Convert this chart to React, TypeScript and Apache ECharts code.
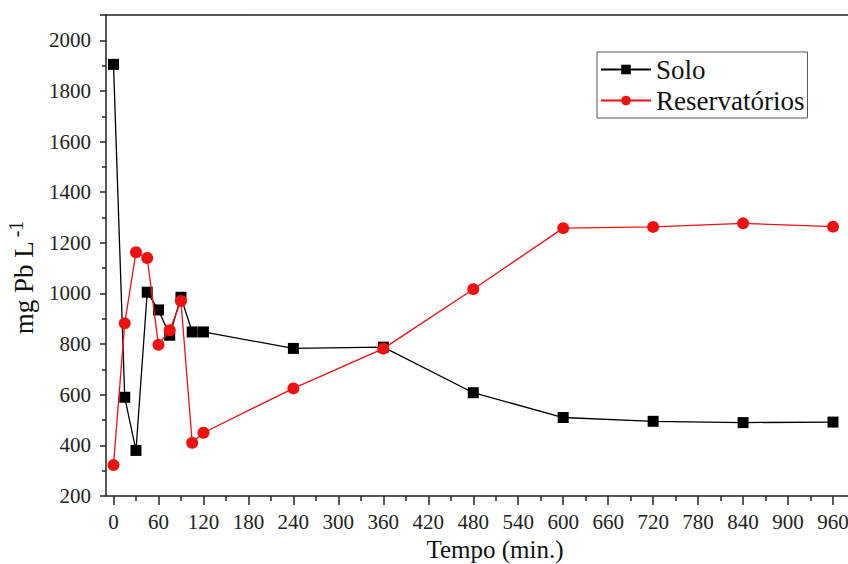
import React, { useEffect, useRef } from "react";
import * as echarts from "echarts";

const timeMin = [0, 15, 30, 45, 60, 75, 90, 105, 120, 240, 360, 480, 600, 720, 840, 960];
const soloValues = [1905, 590, 380, 1005, 935, 835, 985, 848, 848, 783, 788, 608, 510, 495, 490, 492];
const reservValues = [322, 882, 1163, 1140, 797, 855, 970, 410, 450, 625, 782, 1017, 1258, 1263, 1277, 1264];
const xMajorTicks = [0, 60, 120, 180, 240, 300, 360, 420, 480, 540, 600, 660, 720, 780, 840, 900, 960];
const xMinorTicks = [30, 90, 150, 210, 270, 330, 390, 450, 510, 570, 630, 690, 750, 810, 870, 930];

const FONT = "Liberation Serif";

export default function App() {
  const ref = useRef<HTMLDivElement>(null);
  useEffect(() => {
    if (!ref.current) return;
    const chart = echarts.init(ref.current, null, { renderer: "svg" });
    const axisLineStyle = { color: "#222", width: 1.5 };
    chart.setOption({
      animation: false,
      backgroundColor: "#fff",
      textStyle: { fontFamily: FONT },
      grid: { left: 106, top: 15, right: 0, bottom: 68, containLabel: false, outerBoundsMode: "none" },
      legend: {
        orient: "vertical",
        left: 597,
        top: 52,
        padding: [4, 3, 4, 3],
        itemGap: 4,
        itemWidth: 50,
        itemHeight: 12,
        borderColor: "#555",
        borderWidth: 1,
        textStyle: { fontFamily: FONT, fontSize: 27, color: "#111" },
        data: ["Solo", "Reservatórios"],
      },
      xAxis: [
        {
          type: "value",
          min: -10,
          max: 980,
          position: "bottom",
          axisLine: { show: true, onZero: false, lineStyle: axisLineStyle },
          axisTick: { show: true, length: 9, inside: false, customValues: xMajorTicks, lineStyle: axisLineStyle },
          axisLabel: { customValues: xMajorTicks, fontFamily: FONT, fontSize: 21, color: "#222", margin: 15 },
          splitLine: { show: false },
          name: "Tempo (min.)",
          nameLocation: "middle",
          nameGap: 40,
          nameTextStyle: { fontFamily: FONT, fontSize: 25, color: "#111", padding: [0, 0, 0, 36], lineHeight: 26 },
        },
        {
          type: "value",
          min: -10,
          max: 980,
          position: "bottom",
          axisLine: { show: false, onZero: false },
          axisTick: { show: true, length: 5, customValues: xMinorTicks, lineStyle: axisLineStyle },
          axisLabel: { show: false },
          splitLine: { show: false },
        },
        {
          type: "value",
          min: -10,
          max: 980,
          position: "top",
          axisLine: { show: true, onZero: false, lineStyle: axisLineStyle },
          axisTick: { show: false },
          axisLabel: { show: false },
          splitLine: { show: false },
        },
      ],
      yAxis: {
        type: "value",
        min: 200,
        max: 2100,
        interval: 200,
        axisLine: { show: true, onZero: false, lineStyle: axisLineStyle },
        axisTick: { show: true, length: 6, lineStyle: axisLineStyle },
        minorTick: { show: true, splitNumber: 2, length: 4, lineStyle: axisLineStyle },
        axisLabel: {
          fontFamily: FONT,
          fontSize: 21,
          color: "#222",
          margin: 15,
          formatter: (v: number) => (v > 2000 ? "" : String(v)),
        },
        splitLine: { show: false },
        name: "mg Pb L{sup|-1}",
        nameLocation: "middle",
        nameGap: 64,
        nameRotate: 90,
        nameTextStyle: {
          fontFamily: FONT,
          fontSize: 27,
          color: "#111",
          padding: [0, 44, 0, 0],
          rich: {
            sup: { fontFamily: FONT, fontSize: 20, color: "#111", verticalAlign: "top", padding: [0, 0, 16, 4] },
          },
        },
      },
      series: [
        {
          name: "Solo",
          type: "line",
          xAxisIndex: 0,
          data: timeMin.map((t, i) => [t, soloValues[i]]),
          symbol: "rect",
          symbolSize: 11,
          itemStyle: { color: "#000" },
          lineStyle: { color: "#000", width: 1.3 },
          z: 3,
        },
        {
          name: "Reservatórios",
          type: "line",
          xAxisIndex: 0,
          data: timeMin.map((t, i) => [t, reservValues[i]]),
          symbol: "circle",
          symbolSize: 12,
          itemStyle: { color: "#ee1111" },
          lineStyle: { color: "#ee1111", width: 1.3 },
          z: 4,
        },
      ],
    });
    return () => chart.dispose();
  }, []);
  return <div ref={ref} style={{ width: 848, height: 564, position: "absolute", left: 0, top: 0 }} />;
}
